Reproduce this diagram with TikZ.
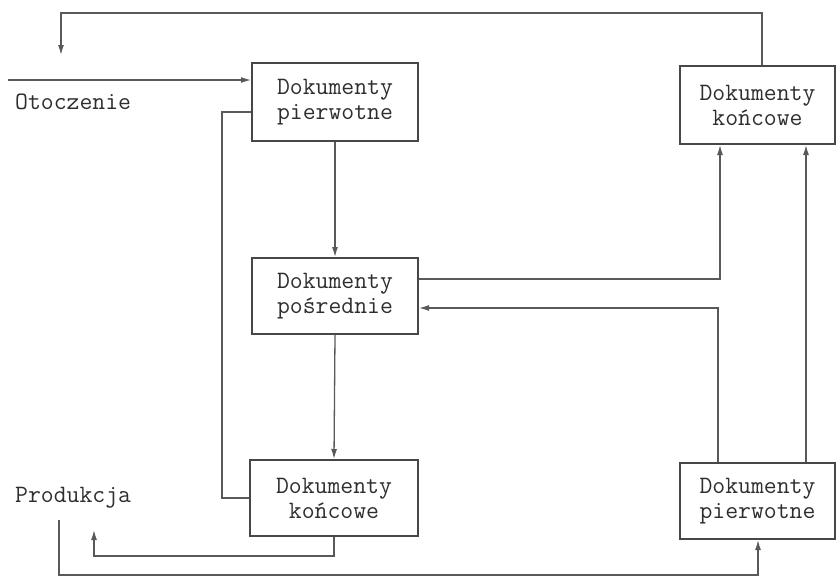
\documentclass[tikz,border=0pt]{standalone}
\usepackage{fontspec}
\usetikzlibrary{arrows.meta}
\begin{document}
\begin{tikzpicture}[x=1pt,y=-1pt,
  docbox/.style={draw=black!72, line width=2pt, text=black!82, font=\ttfamily\fontsize{25}{25}\selectfont, align=center, inner sep=0pt},
  conn/.style={draw=black!65, line width=1.3pt},
  arr/.style={conn, -{Latex[length=10pt,width=6pt]}},
  lbl/.style={text=black!82, font=\ttfamily\fontsize{25}{25}\selectfont, anchor=west, inner sep=0pt}]
\useasboundingbox (0,0) rectangle (837,581);
\node[docbox, minimum width=166pt, minimum height=78pt] (A) at (335,102) {Dokumenty\\pierwotne};
\node[docbox, minimum width=166pt, minimum height=76pt] (B) at (335,296) {Dokumenty\\pośrednie};
\node[docbox, minimum width=168pt, minimum height=76pt] (C) at (334,498) {Dokumenty\\końcowe};
\node[docbox, minimum width=155pt, minimum height=78pt] (D) at (757.5,105) {Dokumenty\\końcowe};
\node[docbox, minimum width=155pt, minimum height=76pt] (E) at (757.5,501) {Dokumenty\\pierwotne};
\node[lbl] (ot) at (15,102) {Otoczenie};
\node[lbl] (pr) at (15,498) {Produkcja};
% coordinates
\coordinate (t1) at (762,13);
\coordinate (t2) at (61,55);
\coordinate (oin) at (8,80);
\coordinate (l1) at (222,112);
\coordinate (l2) at (222,498);
\coordinate (c1) at (334,556);
\coordinate (c2) at (94,530);
\coordinate (p1) at (59,520);
\coordinate (p2) at (59,575);
\coordinate (p3) at (758,575);
\coordinate (r1) at (720,279);
\coordinate (r2) at (718,308);
\coordinate (r3) at (806,300);
% connectors
\draw[arr] (D.north -| t1) -- (t1) -| (t2);
\draw[arr] (oin) -- (A.west |- oin);
\draw[arr] (A.south) -- (B.north);
\draw[conn] (A.west |- l1) -- (l1) -- (l2) -- (C.west |- l2);
\draw[arr] (B.south) -- (C.north);
\draw[arr] (C.south) -- (c1) -| (c2);
\draw[arr] (p1) -- (p2) -- (p3) -- (E.south -| p3);
\draw[arr] (B.east |- r1) -| (D.south -| r1);
\draw[arr] (E.north -| r2) |- (B.east |- r2);
\draw[arr] (E.north -| r3) -- (D.south -| r3);
\end{tikzpicture}
\end{document}
